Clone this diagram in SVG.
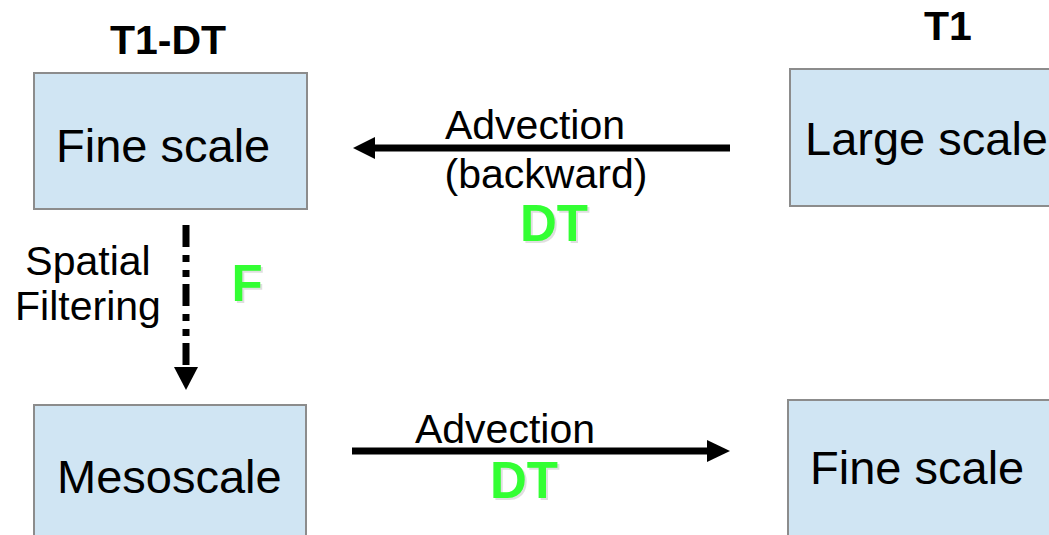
<svg xmlns="http://www.w3.org/2000/svg" width="1049" height="535" viewBox="0 0 1049 535">
<defs>
<style>
.box{fill:#D0E5F3;stroke:#8C8C8C;stroke-width:2}
.t{font-family:"Liberation Sans",Arial,sans-serif;fill:#000}
.lbl{font-size:47px}
.head{font-size:41px;font-weight:bold}
.edge{font-size:41px}
.g{font-family:"Liberation Sans",Arial,sans-serif;font-size:51px;font-weight:bold;fill:#33FF33}
.gs{font-family:"Liberation Sans",Arial,sans-serif;font-size:51px;font-weight:bold;fill:#000;opacity:0.12}
.ln{stroke:#000;stroke-width:7;fill:none}
</style>
</defs>
<rect width="1049" height="535" fill="#fff"/>
<text class="t head" x="168" y="54" text-anchor="middle">T1-DT</text>
<text class="t head" x="948" y="40" text-anchor="middle">T1</text>
<g id="fine-t1dt">
<rect class="box" x="34" y="73" width="273" height="136"/>
<text class="t lbl" x="56" y="162">Fine scale</text>
</g>
<g id="large-t1">
<rect class="box" x="790" y="69" width="280" height="137"/>
<text class="t lbl" x="805" y="155">Large scale</text>
</g>
<g id="meso">
<rect class="box" x="34" y="405" width="272" height="150"/>
<text class="t lbl" x="57" y="493">Mesoscale</text>
</g>
<g id="fine-t1">
<rect class="box" x="788" y="400" width="280" height="150"/>
<text class="t lbl" x="810" y="484">Fine scale</text>
</g>
<g id="connectors">
<line class="ln" x1="730" y1="148" x2="372" y2="148"/>
<polygon points="353,148 375,137 375,159" fill="#000"/>
<line class="ln" x1="352" y1="451" x2="710" y2="451"/>
<polygon points="730,451 707,440 707,462" fill="#000"/>
<line class="ln" x1="186" y1="225" x2="186" y2="368" stroke-dasharray="22 8 7 8 7 7"/>
<polygon points="186,390 174,367 198,367" fill="#000"/>
<text class="t edge" x="535" y="139" text-anchor="middle">Advection</text>
<text class="t edge" x="546" y="188" text-anchor="middle">(backward)</text>
<text class="gs" x="556" y="243" text-anchor="middle">DT</text>
<text class="g" x="554" y="241" text-anchor="middle">DT</text>
<text class="t edge" x="505" y="443" text-anchor="middle">Advection</text>
<text class="gs" x="526" y="500" text-anchor="middle">DT</text>
<text class="g" x="524" y="498" text-anchor="middle">DT</text>
<text class="t edge" x="88" y="275" text-anchor="middle">Spatial</text>
<text class="t edge" x="88" y="320" text-anchor="middle">Filtering</text>
<text class="gs" x="249" y="303" text-anchor="middle">F</text>
<text class="g" x="247" y="301" text-anchor="middle">F</text>
</g>
</svg>
